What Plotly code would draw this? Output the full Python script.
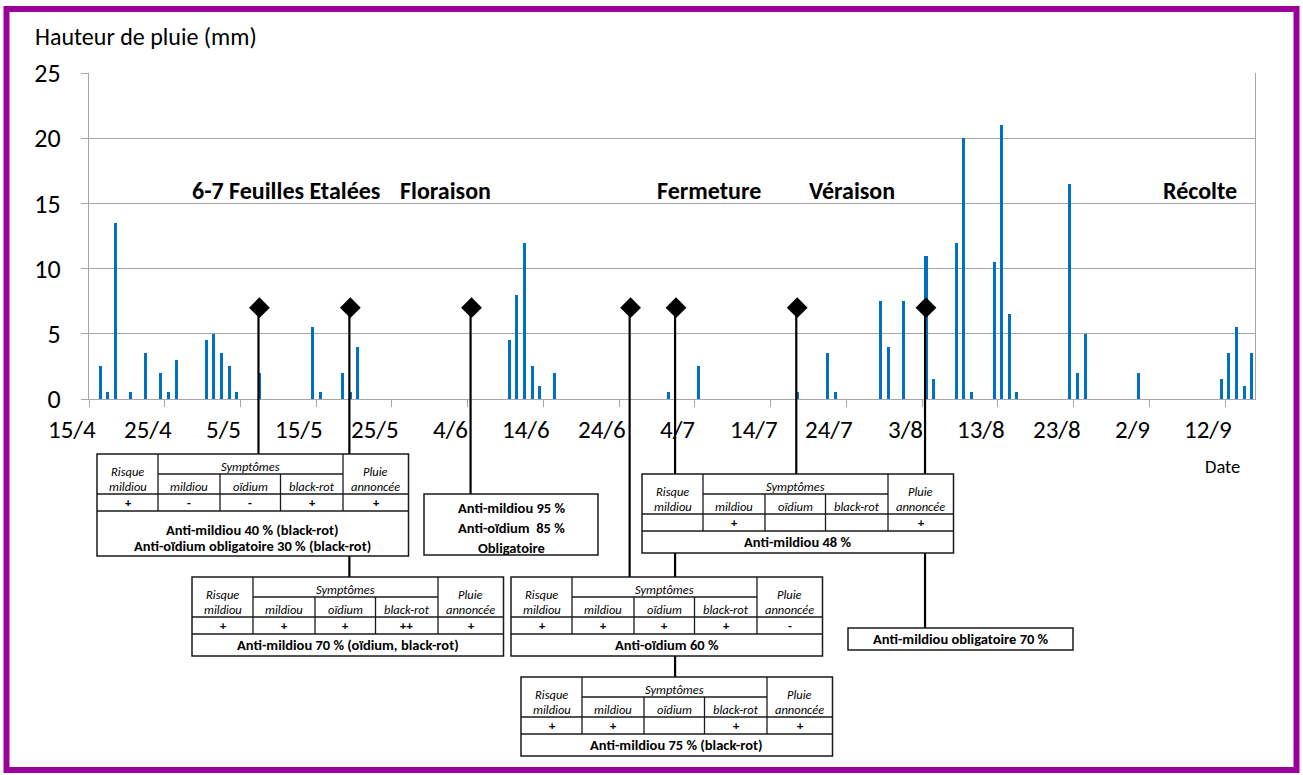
import datetime as dt
import plotly.graph_objects as go

FONT = "Calibri, Carlito, Lato, sans-serif"
BLUE = "#0070C0"
GRID = "#A6A6A6"

# pluie journaliere (mm)
rain_dates = [
    "2014-04-18", "2014-04-19", "2014-04-20", "2014-04-22", "2014-04-24",
    "2014-04-26", "2014-04-27", "2014-04-28", "2014-05-02", "2014-05-03",
    "2014-05-04", "2014-05-05", "2014-05-06", "2014-05-09", "2014-05-16",
    "2014-05-17", "2014-05-20", "2014-05-21", "2014-05-22", "2014-06-11",
    "2014-06-12", "2014-06-13", "2014-06-14", "2014-06-15", "2014-06-17",
    "2014-07-02", "2014-07-06", "2014-07-19", "2014-07-23", "2014-07-24",
    "2014-07-30", "2014-07-31", "2014-08-02", "2014-08-05", "2014-08-06",
    "2014-08-09", "2014-08-10", "2014-08-11", "2014-08-14", "2014-08-15",
    "2014-08-16", "2014-08-17", "2014-08-24", "2014-08-25", "2014-08-26",
    "2014-09-02", "2014-09-13", "2014-09-14", "2014-09-15", "2014-09-16",
    "2014-09-17",
]
rain_mm = [
    2.5, 0.5, 13.5, 0.5, 3.5,
    2.0, 0.5, 3.0, 4.5, 5.0,
    3.5, 2.5, 0.5, 2.0, 5.5,
    0.5, 2.0, 0.5, 4.0, 4.5,
    8.0, 12.0, 2.5, 1.0, 2.0,
    0.5, 2.5, 0.5, 3.5, 0.5,
    7.5, 4.0, 7.5, 11.0, 1.5,
    12.0, 20.0, 0.5, 10.5, 21.0,
    6.5, 0.5, 16.5, 2.0, 5.0,
    2.0, 1.5, 3.5, 5.5, 1.0,
    3.5,
]

# dates de traitement
treat_dates = ["2014-05-09", "2014-05-21", "2014-06-06", "2014-06-27",
               "2014-07-03", "2014-07-19", "2014-08-05"]
treat_level = [7, 7, 7, 7, 7, 7, 7]

tick_dates = ["2014-04-15", "2014-04-25", "2014-05-05", "2014-05-15",
              "2014-05-25", "2014-06-04", "2014-06-14", "2014-06-24",
              "2014-07-04", "2014-07-14", "2014-07-24", "2014-08-03",
              "2014-08-13", "2014-08-23", "2014-09-02", "2014-09-12"]
tick_text = ["15/4", "25/4", "5/5", "15/5", "25/5", "4/6", "14/6", "24/6",
             "4/7", "14/7", "24/7", "3/8", "13/8", "23/8", "2/9", "12/9"]

stages = ["6-7 Feuilles Etalées", "Floraison", "Fermeture", "Véraison", "Récolte"]

tables = [
    dict(values=["+", "-", "-", "+", "+"],
         footer=["Anti-mildiou 40 % (black-rot)", "Anti-oïdium obligatoire 30 % (black-rot)"]),
    dict(values=["+", "+", "+", "++", "+"],
         footer=["Anti-mildiou 70 % (oïdium, black-rot)"]),
    dict(values=["+", "+", "+", "+", "-"], footer=["Anti-oïdium 60 %"]),
    dict(values=["+", "+", "", "+", "+"], footer=["Anti-mildiou 75 % (black-rot)"]),
    dict(values=["", "+", "", "", "+"], footer=["Anti-mildiou 48 %"]),
]
boxes = [
    ["Anti-mildiou 95 %", "Anti-oïdium  85 %", "Obligatoire"],
    ["Anti-mildiou obligatoire 70 %"],
]

# --- layout in pixels (1303 x 775 page) ---
L, R, T, B = 89, 1255, 73, 399
X0, X1 = "2014-04-16 12:00", "2014-09-17 10:30"


def fx(x):
    return (x - L) / (R - L)


def fy(y):
    return (B - y) / (B - T)


def shift(d, hours):
    return (dt.datetime.fromisoformat(d) + dt.timedelta(hours=hours)).isoformat()


def date_frac(d):
    a, b = dt.datetime.fromisoformat(X0), dt.datetime.fromisoformat(X1)
    return (dt.datetime.fromisoformat(d) - a) / (b - a)


fig = go.Figure()
fig.add_trace(go.Bar(x=rain_dates, y=rain_mm, width=0.4 * 86400000,
                     marker_color=BLUE, marker_line_width=0, showlegend=False))
fig.add_trace(go.Scatter(x=treat_dates, y=treat_level, mode="markers",
                         marker=dict(symbol="diamond", size=16, color="black"),
                         showlegend=False))

shapes = []
annotations = []

# purple frame
shapes.append(dict(type="rect", xref="paper", yref="paper", x0=fx(6.5), x1=fx(1296.5),
                   y0=fy(9), y1=fy(770), line=dict(color="#990099", width=6)))

# lines from treatments down to the tables
line_ends = [454, 577, 494, 577, 677, 474, 628]
for d, yend in zip(treat_dates, line_ends):
    shapes.append(dict(type="line", xref="x", yref="paper", x0=shift(d, -3), x1=shift(d, -3),
                       y0=7 / 25, y1=fy(yend), line=dict(color="black", width=2.2)))

col_w = [61, 62, 60.5, 62.5, 65.5]
table_pos = [(97, 454), (192, 577), (511, 577), (521, 677), (642, 474)]
sub = ["mildiou", "oïdium", "black-rot"]
LC = "#1a1a1a"
SMALL = 12.5
BOLD = 14.5


def hline(x0, x1, y, w=1.3):
    shapes.append(dict(type="line", xref="paper", yref="paper", x0=fx(x0), x1=fx(x1),
                       y0=fy(y), y1=fy(y), line=dict(color=LC, width=w)))


def vline(x, y0, y1, w=1.3):
    shapes.append(dict(type="line", xref="paper", yref="paper", x0=fx(x), x1=fx(x),
                       y0=fy(y0), y1=fy(y1), line=dict(color=LC, width=w)))


def text(x, y, s, size=SMALL, **kw):
    annotations.append(dict(xref="paper", yref="paper", x=fx(x), y=fy(y), text=s,
                            showarrow=False, xanchor="center", yanchor="middle", borderpad=0,
                            font=dict(family=FONT, size=size, color="black"), **kw))


for tab, (x0, y0) in zip(tables, table_pos):
    xs = [x0]
    for w in col_w:
        xs.append(xs[-1] + w)
    y_sym, y_hdr, y_val = y0 + 20, y0 + 40, y0 + 57
    n = len(tab["footer"])
    foot_h = 22 if n == 1 else 45
    y_bot = y_val + foot_h
    shapes.append(dict(type="rect", xref="paper", yref="paper", x0=fx(xs[0]), x1=fx(xs[-1]),
                       y0=fy(y0), y1=fy(y_bot), fillcolor="white",
                       line=dict(color=LC, width=1.5)))
    hline(xs[1], xs[4], y_sym)
    hline(xs[0], xs[-1], y_hdr)
    hline(xs[0], xs[-1], y_val)
    vline(xs[1], y0, y_val)
    vline(xs[4], y0, y_val)
    vline(xs[2], y_sym, y_val)
    vline(xs[3], y_sym, y_val)
    for cx, (a, b) in [((xs[0] + xs[1]) / 2, ("Risque", "mildiou")),
                       ((xs[4] + xs[5]) / 2, ("Pluie", "annoncée"))]:
        text(cx, y0 + 17, "<i>" + a + "</i>")
        text(cx, y0 + 32.5, "<i>" + b + "</i>")
    text((xs[1] + xs[4]) / 2, y0 + 12.5, "<i>Symptômes</i>")
    for i, s in enumerate(sub):
        text((xs[i + 1] + xs[i + 2]) / 2, y0 + 32.5, "<i>" + s + "</i>")
    for i, v in enumerate(tab["values"]):
        if v:
            text((xs[i] + xs[i + 1]) / 2, (y_hdr + y_val) / 2, "<b>" + v + "</b>", size=12.5)
    if n == 1:
        text((xs[0] + xs[-1]) / 2, y_val + 11, "<b>" + tab["footer"][0] + "</b>", size=BOLD)
    else:
        for j, s in enumerate(tab["footer"]):
            text((xs[0] + xs[-1]) / 2, y_val + 19 + 16 * j, "<b>" + s + "</b>", size=BOLD)

# plain boxes
shapes.append(dict(type="rect", xref="paper", yref="paper", x0=fx(424), x1=fx(598),
                   y0=fy(494), y1=fy(555), fillcolor="white", line=dict(color=LC, width=1.5)))
for s, yy in zip(boxes[0], [508, 528, 548]):
    text(511, yy, "<b>" + s + "</b>", size=BOLD)
shapes.append(dict(type="rect", xref="paper", yref="paper", x0=fx(848), x1=fx(1073),
                   y0=fy(628), y1=fy(650), fillcolor="white", line=dict(color=LC, width=1.5)))
text(960.5, 639, "<b>" + boxes[1][0] + "</b>", size=BOLD)

# stage labels
for s, xx in zip(stages, [285.8, 445.3, 709.2, 852.5, 1200.3]):
    text(xx, 190.7, "<b>" + s + "</b>", size=24)

# x tick labels, shifted 18 h left like the original axis (15/4 lies left of the plot)
for d, s in zip(tick_dates, tick_text):
    annotations.append(dict(xref="paper", yref="paper", x=date_frac(shift(d, -18)), y=fy(429),
                            text=s, showarrow=False, xanchor="center", yanchor="middle",
                            borderpad=0, font=dict(family=FONT, size=25, color="black")))

text(1222, 466, "Date", size=18.5)
annotations.append(dict(xref="paper", yref="paper", x=fx(33), y=fy(37), text="Hauteur de pluie (mm)",
                        showarrow=False, xanchor="left", yanchor="middle",
                        font=dict(family=FONT, size=24, color="black")))

fig.update_layout(
    width=1303, height=775,
    margin=dict(l=L, r=1303 - R, t=T, b=775 - B, autoexpand=False),
    paper_bgcolor="white", plot_bgcolor="white",
    font=dict(family=FONT, color="black"),
    bargap=0,
    shapes=shapes,
    annotations=annotations,
    showlegend=False,
)
fig.update_xaxes(
    type="date", range=[X0, X1],
    tickmode="linear", tick0=X0, dtick=10 * 86400000,
    ticks="outside", ticklen=7, tickcolor=GRID, tickwidth=1.3,
    showticklabels=False, showgrid=False, zeroline=False,
    showline=True, linecolor=GRID, linewidth=1.3, automargin=False,
)
fig.update_yaxes(
    range=[0, 25], tickmode="linear", tick0=0, dtick=5,
    ticks="outside", ticklen=7, tickcolor=GRID, tickwidth=1.3,
    tickfont=dict(family=FONT, size=26, color="black"), ticklabelstandoff=15,
    showgrid=True, gridcolor=GRID, gridwidth=1.3, zeroline=False,
    showline=True, linecolor=GRID, linewidth=1.3, mirror=True, automargin=False,
)

fig.write_html("out.html", config={"displayModeBar": False},
               post_script="document.body.style.margin='0';")
